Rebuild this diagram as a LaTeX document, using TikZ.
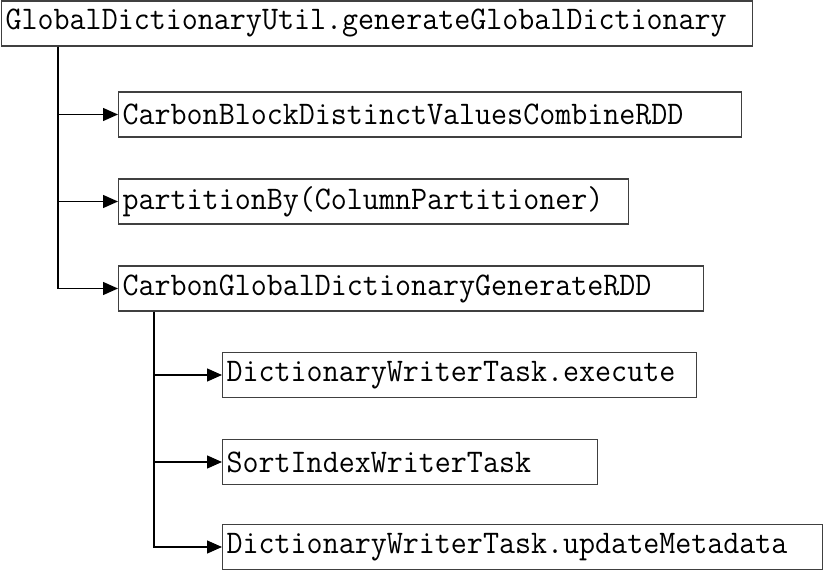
\documentclass[tikz,border=0pt]{standalone}
\usepackage{fontspec}
\setmonofont[FakeStretch=0.943]{Latin Modern Mono}
\usetikzlibrary{arrows.meta}

\begin{document}
\begin{tikzpicture}[
        x=1pt, y=-1pt,
        >={Triangle[length=15pt,width=13pt]},
        box/.style={
            rectangle,
            draw=black!75,
            line width=1.2pt,
            minimum height=45pt,
            inner xsep=4pt,
            inner ysep=0pt,
            align=left,
            anchor=west,
            fill=white,
            font=\fontsize{33}{35}\selectfont\ttfamily
        },
        arrow/.style={
            ->,
            line width=1.3pt,
            draw=black
        }
    ]

    \useasboundingbox (0,0) rectangle (825,572);

    \node[box, text width=743pt] (gen)       at (1, 23.5)   {GlobalDictionaryUtil.generateGlobalDictionary};

    \node[box, text width=615pt] (combine)   at (118, 114.5) {CarbonBlockDistinctValuesCombineRDD};
    \node[box, text width=502pt] (partition) at (118, 201.5) {partitionBy(ColumnPartitioner)};
    \node[box, text width=577pt] (generate)  at (118, 288.5) {CarbonGlobalDictionaryGenerateRDD};

    \node[box, text width=466pt] (dictexec)  at (222, 375)   {DictionaryWriterTask.execute};
    \node[box, text width=367pt] (sortidx)   at (222, 462)   {SortIndexWriterTask};
    \node[box, text width=592pt] (update)    at (222, 547)   {DictionaryWriterTask.updateMetadata};

    \coordinate (trunkA) at ([xshift=57pt]gen.south west);
    \coordinate (trunkB) at ([xshift=36pt]generate.south west);

    \draw[arrow] (trunkA) |- (combine.west);
    \draw[arrow] (trunkA) |- (partition.west);
    \draw[arrow] (trunkA) |- (generate.west);

    \draw[arrow] (trunkB) |- (dictexec.west);
    \draw[arrow] (trunkB) |- (sortidx.west);
    \draw[arrow] (trunkB) |- (update.west);

\end{tikzpicture}
\end{document}
